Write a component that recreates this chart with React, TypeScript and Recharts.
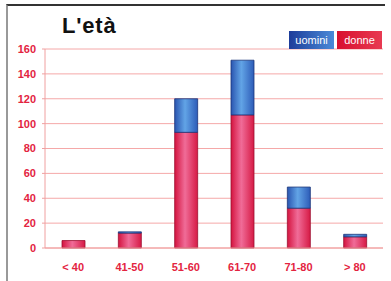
import { BarChart, Bar, XAxis, YAxis, CartesianGrid } from 'recharts'

const CATEGORIES = ['< 40', '41-50', '51-60', '61-70', '71-80', '> 80']
const DONNE = [6, 12, 93, 107, 32, 9]
const UOMINI = [0, 1, 27, 44, 17, 2]
const Y_TICKS = [0, 20, 40, 60, 80, 100, 120, 140, 160]

const RED = '#e3243f'
const FONT = '"Liberation Sans", Arial, sans-serif'

const data = CATEGORIES.map((c, i) => ({ name: c, donne: DONNE[i], uomini: UOMINI[i] }))

function LegendBoxes() {
  const box = (label: string, bg: string) => (
    <div
      style={{
        width: 45,
        height: 18,
        background: bg,
        color: '#fff',
        fontSize: 11,
        lineHeight: '18px',
        textAlign: 'center',
        fontFamily: FONT,
      }}
    >
      {label}
    </div>
  )
  return (
    <div style={{ position: 'absolute', left: 289, top: 31, display: 'flex', gap: 3 }}>
      {box('uomini', 'linear-gradient(90deg, #1d3c9a, #4a8ad8)')}
      {box('donne', 'linear-gradient(90deg, #d8102e, #e83a52)')}
    </div>
  )
}

export default function App() {
  return (
    <div style={{ position: 'absolute', left: 0, top: 0, width: 391, height: 281, background: '#fff' }}>
      <div
        style={{
          position: 'absolute',
          left: 6,
          top: 4,
          width: 379,
          height: 277,
          borderTop: '2px solid #333',
          borderLeft: '2px solid #999',
          boxSizing: 'border-box',
        }}
      />
      <div
        style={{
          position: 'absolute',
          left: 62,
          top: 13,
          fontFamily: FONT,
          fontWeight: 'bold',
          fontSize: 22,
          letterSpacing: 0.8,
          color: '#111',
        }}
      >
        L'età
      </div>
      <BarChart
        width={391}
        height={281}
        data={data}
        margin={{ top: 49, right: 8, left: 0, bottom: 0 }}
        barSize={23}
        style={{ position: 'absolute', left: 0, top: 0 }}
      >
        <defs>
          <linearGradient id="gDonne" x1="0" y1="0" x2="1" y2="0">
            <stop offset="0%" stopColor="#d4143f" />
            <stop offset="45%" stopColor="#f06c98" />
            <stop offset="100%" stopColor="#d61a45" />
          </linearGradient>
          <linearGradient id="gUomini" x1="0" y1="0" x2="1" y2="0">
            <stop offset="0%" stopColor="#2a55b0" />
            <stop offset="45%" stopColor="#62a4e6" />
            <stop offset="100%" stopColor="#2d5cb8" />
          </linearGradient>
        </defs>
        <CartesianGrid vertical={false} stroke="#f5a8a8" />
        <XAxis
          dataKey="name"
          height={33}
          axisLine={{ stroke: '#f0a0a0' }}
          tickLine={false}
          tickMargin={9}
          tick={{ fill: RED, fontSize: 11, fontWeight: 'bold', fontFamily: FONT }}
        />
        <YAxis
          width={45}
          domain={[0, 160]}
          ticks={Y_TICKS}
          interval={0}
          axisLine={{ stroke: '#f0a0a0' }}
          tickLine={{ stroke: '#f0a0a0' }}
          tickSize={3}
          tickMargin={6}
          tick={{ fill: RED, fontSize: 11, fontWeight: 'bold', fontFamily: FONT }}
        />
        <YAxis
          yAxisId="r"
          orientation="right"
          width={0}
          domain={[0, 160]}
          tick={false}
          tickLine={false}
          axisLine={{ stroke: '#f0a0a0' }}
        />
        <Bar dataKey="donne" stackId="a" fill="url(#gDonne)" stroke="#9a0f30" strokeWidth={0.8} isAnimationActive={false} />
        <Bar dataKey="uomini" stackId="a" fill="url(#gUomini)" stroke="#1a3578" strokeWidth={0.8} isAnimationActive={false} />
      </BarChart>
      <LegendBoxes />
    </div>
  )
}
